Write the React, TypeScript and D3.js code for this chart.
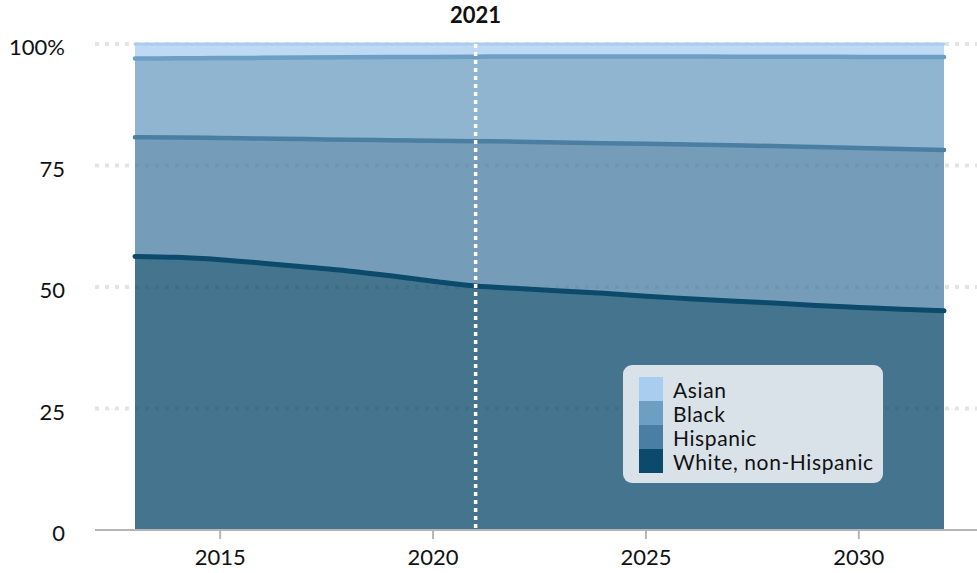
import React from "react";
import * as d3 from "d3";

const years = [2013, 2014, 2015, 2016, 2017, 2018, 2019, 2020, 2021, 2022, 2023, 2024, 2025, 2026, 2027, 2028, 2029, 2030, 2031, 2032];
// cumulative tops of each layer
const whiteTop = [56.3, 56.1, 55.6, 54.9, 54.1, 53.3, 52.3, 51.2, 50.2, 49.7, 49.2, 48.7, 48.1, 47.6, 47.1, 46.7, 46.2, 45.8, 45.4, 45.1];
const hispanicTop = [80.8, 80.75, 80.65, 80.55, 80.45, 80.3, 80.2, 80.1, 80.0, 79.9, 79.75, 79.6, 79.45, 79.3, 79.15, 79.0, 78.8, 78.6, 78.4, 78.2];
const blackTop = [97.0, 97.05, 97.1, 97.15, 97.2, 97.25, 97.3, 97.35, 97.4, 97.45, 97.45, 97.45, 97.45, 97.45, 97.4, 97.4, 97.4, 97.35, 97.35, 97.3];

const seriesKeys = ["White, non-Hispanic", "Hispanic", "Black", "Asian"];
const lineColors = ["#0b4a6b", "#4a7ea3", "#6d9ec3", "#a8cdef"];
const legendOrder = ["Asian", "Black", "Hispanic", "White, non-Hispanic"];
const yTicks = [0, 25, 50, 75, 100];
const xTicks = [2015, 2020, 2025, 2030];
const markerYear = 2021;

const rows = years.map((yr, i) => ({
  year: yr,
  "White, non-Hispanic": whiteTop[i],
  Hispanic: hispanicTop[i] - whiteTop[i],
  Black: blackTop[i] - hispanicTop[i],
  Asian: 100 - blackTop[i],
}));

const W = 977;
const H = 573;
const FONT = "Lato, 'Open Sans', sans-serif";

export default function App() {
  const x = d3.scaleLinear().domain([2013, 2032]).range([135, 944]);
  const y = d3.scaleLinear().domain([0, 100]).range([530, 44]);
  const stacked = d3.stack<any>().keys(seriesKeys)(rows as any);
  const area = d3
    .area<any>()
    .x((d) => x(d.data.year))
    .y0((d) => y(d[0]))
    .y1((d) => y(d[1]))
    .curve(d3.curveMonotoneX);
  const line = d3
    .line<any>()
    .x((d) => x(d.data.year))
    .y((d) => y(d[1]))
    .curve(d3.curveMonotoneX);

  return (
    <svg width={W} height={H} style={{ position: "absolute", left: 0, top: 0 }} fontFamily={FONT}>
      {yTicks
        .filter((t) => t > 0)
        .map((t) => (
          <line key={t} x1={95} x2={W} y1={y(t)} y2={y(t)} stroke="#e4e4e4" strokeWidth={4} strokeDasharray="4,6" />
        ))}
      {stacked.map((s, i) => (
        <path key={s.key} d={area(s) || ""} fill={lineColors[i]} fillOpacity={0.76} />
      ))}
      {stacked.map((s, i) => (
        <path
          key={s.key + "l"}
          d={line(s) || ""}
          fill="none"
          stroke={lineColors[i]}
          strokeWidth={i === 3 ? 3 : i === 0 ? 5 : 4.5}
          strokeLinecap="round"
        />
      ))}
      <line x1={95} x2={W} y1={y(0)} y2={y(0)} stroke="#b5b5b5" strokeWidth={2} />
      {xTicks.map((t) => (
        <g key={t}>
          <line x1={x(t)} x2={x(t)} y1={y(0)} y2={y(0) + 9} stroke="#b5b5b5" strokeWidth={2} />
          <text x={x(t)} y={565} textAnchor="middle" fontSize={22} fill="#111">
            {t}
          </text>
        </g>
      ))}
      {yTicks.map((t) => (
        <text key={t} x={65} y={y(t) + 11} textAnchor="end" fontSize={22} fill="#111">
          {t === 100 ? "100%" : t}
        </text>
      ))}
      <line
        x1={x(markerYear)}
        x2={x(markerYear)}
        y1={y(100)}
        y2={y(0)}
        stroke="#fff"
        strokeWidth={3.5}
        strokeDasharray="4,4"
      />
      <text x={x(markerYear)} y={23} textAnchor="middle" fontSize={22} fontWeight="bold" fill="#111">
        {markerYear}
      </text>
      <g>
        <rect x={623} y={365} width={260} height={118} rx={9} fill="#dae2e9" />
        {legendOrder.map((k, i) => {
          const ci = seriesKeys.indexOf(k);
          return (
            <g key={k}>
              <rect x={639} y={377 + i * 24} width={24} height={24} fill={lineColors[ci]} />
              <text x={673} y={398 + i * 24} fontSize={21} letterSpacing={0.6} fill="#111">
                {k}
              </text>
            </g>
          );
        })}
      </g>
    </svg>
  );
}
